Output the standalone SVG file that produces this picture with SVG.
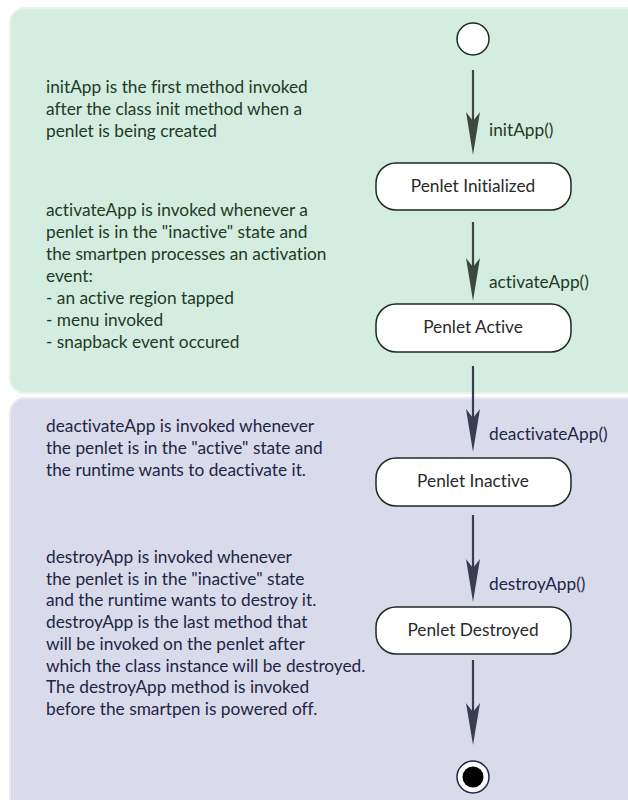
<svg xmlns="http://www.w3.org/2000/svg" width="628" height="800" viewBox="0 0 628 800">
<defs>
<style>
.note{font-family:Lato,"Open Sans","Liberation Sans",sans-serif;font-size:17.3px;font-variant-ligatures:none}
.g{fill:#1f3a24}
.b{fill:#1e2547}
.lbl{font-family:Lato,"Open Sans","Liberation Sans",sans-serif;font-size:17.3px;font-variant-ligatures:none}
.node rect{fill:#ffffff;stroke:#1e2a24;stroke-width:1.5}
.node text{font-family:Lato,"Open Sans","Liberation Sans",sans-serif;font-size:17.3px;font-variant-ligatures:none;fill:#2a2a2a;text-anchor:middle}
.cg{stroke:#3c4a3e;stroke-width:2.2;fill:none}
.cb{stroke:#383d50;stroke-width:2.2;fill:none}
.hg{fill:#3c4a3e}
.hb{fill:#383d50}
</style>
</defs>
<rect width="628" height="800" fill="#ffffff"/>
<g id="panel-top">
<rect x="10" y="8" width="640" height="385" rx="15" fill="#d3ede0" stroke="#e6f4ec" stroke-width="2"/>
</g>
<g id="panel-bottom">
<rect x="10" y="398" width="640" height="420" rx="15" fill="#d9dbea" stroke="#e8e9f2" stroke-width="2"/>
</g>
<g id="notes" class="note">
<text class="g" x="46" y="93">initApp is the first method invoked</text>
<text class="g" x="46" y="115">after the class init method when a</text>
<text class="g" x="46" y="137">penlet is being created</text>
<text class="g" x="46" y="216">activateApp is invoked whenever a</text>
<text class="g" x="46" y="238">penlet is in the "inactive" state and</text>
<text class="g" x="46" y="260">the smartpen processes an activation</text>
<text class="g" x="46" y="282">event:</text>
<text class="g" x="46" y="304">- an active region tapped</text>
<text class="g" x="46" y="326">- menu invoked</text>
<text class="g" x="46" y="348">- snapback event occured</text>
<text class="b" x="46" y="432">deactivateApp is invoked whenever</text>
<text class="b" x="46" y="454">the penlet is in the "active" state and</text>
<text class="b" x="46" y="476">the runtime wants to deactivate it.</text>
<text class="b" x="46" y="563">destroyApp is invoked whenever</text>
<text class="b" x="46" y="584.7">the penlet is in the "inactive" state</text>
<text class="b" x="46" y="606.4">and the runtime wants to destroy it.</text>
<text class="b" x="46" y="628.1">destroyApp is the last method that</text>
<text class="b" x="46" y="649.8">will be invoked on the penlet after</text>
<text class="b" x="46" y="671.5">which the class instance will be destroyed.</text>
<text class="b" x="46" y="693.2">The destroyApp method is invoked</text>
<text class="b" x="46" y="714.9">before the smartpen is powered off.</text>
</g>
<g id="connectors">
<line class="cg" x1="473" y1="70" x2="473" y2="130"/>
<polygon class="hg" points="466,112 473,121 480,112 473,155"/>
<text class="lbl g" x="489" y="136">initApp()</text>
<line class="cg" x1="473" y1="222" x2="473" y2="275"/>
<polygon class="hg" points="466,258 473,267 480,258 473,301"/>
<text class="lbl g" x="489" y="288">activateApp()</text>
<line class="cb" x1="473" y1="366" x2="473" y2="430"/>
<polygon class="hb" points="466,409 473,418 480,409 473,452"/>
<text class="lbl b" x="489" y="440">deactivateApp()</text>
<line class="cb" x1="473" y1="515" x2="473" y2="580"/>
<polygon class="hb" points="466,559 473,568 480,559 473,602"/>
<text class="lbl b" x="489" y="590">destroyApp()</text>
<line class="cb" x1="473" y1="660" x2="473" y2="720"/>
<polygon class="hb" points="466,703 473,712 480,703 473,745"/>
</g>
<g id="start">
<circle cx="473" cy="39" r="16" fill="#ffffff" stroke="#1e2a24" stroke-width="1.5"/>
</g>
<g id="n-initialized" class="node">
<rect x="376" y="163" width="195" height="47" rx="20"/>
<text x="473" y="192">Penlet Initialized</text>
</g>
<g id="n-active" class="node">
<rect x="376" y="304" width="195" height="48" rx="20"/>
<text x="473" y="333">Penlet Active</text>
</g>
<g id="n-inactive" class="node">
<rect x="376" y="458" width="195" height="48" rx="20"/>
<text x="473" y="487">Penlet Inactive</text>
</g>
<g id="n-destroyed" class="node">
<rect x="376" y="607" width="195" height="47" rx="20"/>
<text x="473" y="636">Penlet Destroyed</text>
</g>
<g id="end">
<circle cx="473" cy="777" r="16" fill="#ffffff" stroke="#1e2547" stroke-width="1.5"/>
<circle cx="473" cy="777" r="10.5" fill="#000000"/>
</g>
</svg>
